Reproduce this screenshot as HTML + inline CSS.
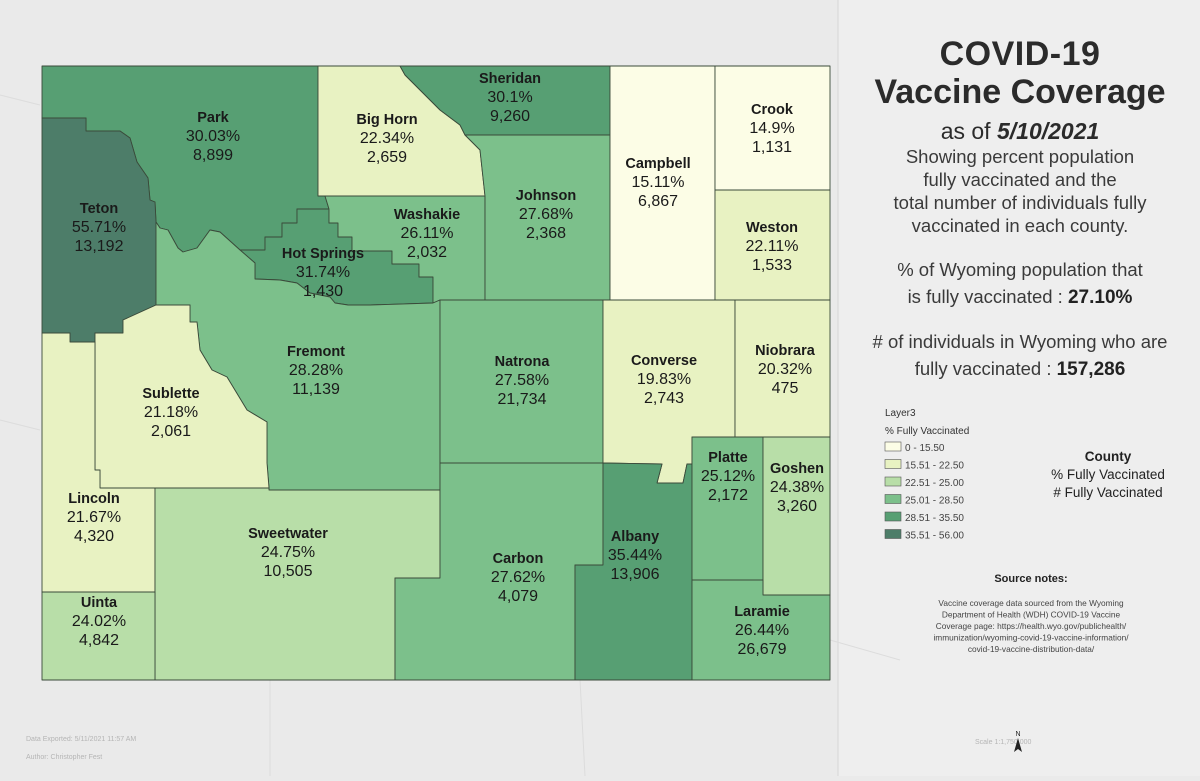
<!DOCTYPE html>
<html><head><meta charset="utf-8"><style>
body{margin:0;width:1200px;height:776px;overflow:hidden;background:#eaeaea;font-family:"Liberation Sans",sans-serif}
</style></head><body>
<svg width="1200" height="776" viewBox="0 0 1200 776" xmlns="http://www.w3.org/2000/svg" style="font-family:'Liberation Sans',sans-serif">
<rect x="0" y="0" width="1200" height="776" fill="#eaeaea"/>
<rect x="838" y="0" width="362" height="776" fill="#eeeeee"/>
<line x1="838" y1="0" x2="838" y2="776" stroke="#d6d6d6"/>
<g stroke="#dcdcdc" fill="none">
<path d="M0,95 L40,105 M270,680 L270,776 M580,680 L585,776 M830,640 L900,660 M0,420 L40,430"/>
</g>
<g id="counties"></g>
<g id="labels"></g>
<g text-anchor="middle" fill="#2b2b2b">
<text x="1020" y="65" font-size="34" font-weight="bold" letter-spacing="0.5">COVID-19</text>
<text x="1020" y="103" font-size="34" font-weight="bold">Vaccine Coverage</text>
<text x="1020" y="139" font-size="23">as of <tspan font-weight="bold" font-style="italic">5/10/2021</tspan></text>
</g>
<g text-anchor="middle" font-size="18.5" fill="#3a3a3a">
<text x="1020" y="163">Showing percent population</text>
<text x="1020" y="186">fully vaccinated and the</text>
<text x="1020" y="209">total number of individuals fully</text>
<text x="1020" y="232">vaccinated in each county.</text>
<text x="1020" y="276">% of Wyoming population that</text>
<text x="1020" y="303">is fully vaccinated : <tspan font-weight="bold" font-size="19" fill="#222">27.10%</tspan></text>
<text x="1020" y="348"># of individuals in Wyoming who are</text>
<text x="1020" y="375">fully vaccinated : <tspan font-weight="bold" font-size="19" fill="#222">157,286</tspan></text>
</g>
<g id="legend">
<text x="885" y="416" font-size="10" fill="#333">Layer3</text>
<text x="885" y="434" font-size="10" fill="#333">% Fully Vaccinated</text>
<g text-anchor="middle" font-size="13.5" fill="#222">
<text x="1108" y="461" font-weight="bold">County</text>
<text x="1108" y="479">% Fully Vaccinated</text>
<text x="1108" y="497"># Fully Vaccinated</text>
</g>
</g>
<g text-anchor="middle">
<text x="1031" y="582" font-size="11" font-weight="bold" fill="#222">Source notes:</text>
<g font-size="8.3" fill="#444">
<text x="1031" y="606">Vaccine coverage data sourced from the Wyoming</text>
<text x="1031" y="617.5">Department of Health (WDH) COVID-19 Vaccine</text>
<text x="1031" y="629">Coverage page: https://health.wyo.gov/publichealth/</text>
<text x="1031" y="640.5">immunization/wyoming-covid-19-vaccine-information/</text>
<text x="1031" y="652">covid-19-vaccine-distribution-data/</text>
</g>
</g>
<g fill="#b5b5b5" font-size="7">
<text x="26" y="741">Data Exported: 5/11/2021 11:57 AM</text>
<text x="26" y="759">Author: Christopher Fest</text>
<text x="975" y="744">Scale 1:1,750,000</text>
</g>
<g>
<path d="M1018,738 L1014,752 L1018,749 L1022,752 Z" fill="#222"/>
<text x="1018" y="736" font-size="7" text-anchor="middle" fill="#222">N</text>
</g>
</svg>
<script>
const counties = ["Park","Teton","Big Horn","Sheridan","Hot Springs","Washakie","Johnson","Campbell","Crook","Weston","Fremont","Natrona","Converse","Niobrara","Sublette","Lincoln","Sweetwater","Carbon","Albany","Platte","Goshen","Laramie","Uinta"];
const pctValues = [30.03,55.71,22.34,30.1,31.74,26.11,27.68,15.11,14.9,22.11,28.28,27.58,19.83,20.32,21.18,21.67,24.75,27.62,35.44,25.12,24.38,26.44,24.02];
const countValues = ["8,899","13,192","2,659","9,260","1,430","2,032","2,368","6,867","1,131","1,533","11,139","21,734","2,743","475","2,061","4,320","10,505","4,079","13,906","2,172","3,260","26,679","4,842"];
const classBreaks = [15.5,22.5,25.0,28.5,35.5,56.0];
const classLabels = ["0 - 15.50","15.51 - 22.50","22.51 - 25.00","25.01 - 28.50","28.51 - 35.50","35.51 - 56.00"];
const classColors = ["#fcfde6","#e8f2c2","#b8dea8","#7cc08b","#579f73","#4d7d69"];

const geom = {
"Park":"42,66 318,66 318,196 325,196 329,209 297,209 297,223 282,223 282,237 265,237 265,250 240,250 220,232 210,230 197,248 183,252 178,248 168,230 160,228 156,222 155,202 150,200 148,178 137,162 130,138 120,131 86,131 86,118 42,118",
"Teton":"42,118 86,118 86,131 120,131 130,138 137,162 148,178 150,200 155,202 156,222 156,305 123,320 123,333 95,333 95,342 70,342 70,333 42,333",
"Big Horn":"318,66 400,66 405,75 420,90 440,110 460,125 465,135 480,150 485,196 325,196 318,196",
"Sheridan":"400,66 610,66 610,135 465,135 460,125 440,110 420,90 405,75",
"Hot Springs":"297,209 329,209 329,223 338,223 338,237 352,237 352,251 392,251 392,264 419,264 419,277 433,277 433,303 370,305 348,305 335,303 330,297 310,293 297,283 280,280 255,279 255,263 240,250 265,250 265,237 282,237 282,223 297,223",
"Washakie":"325,196 485,196 485,300 440,300 433,303 433,277 419,277 419,264 392,264 392,251 352,251 352,237 338,237 338,223 329,223 329,209",
"Johnson":"465,135 610,135 610,300 485,300 485,196 480,150",
"Campbell":"610,66 715,66 715,300 610,300",
"Crook":"715,66 830,66 830,190 715,190",
"Weston":"715,190 830,190 830,300 715,300",
"Fremont":"156,222 160,228 168,230 178,248 183,252 197,248 210,230 220,232 240,250 255,263 255,279 280,280 297,283 310,293 330,297 335,303 348,305 370,305 433,303 440,300 440,490 269,490 269,488 267,463 267,422 247,410 227,377 212,370 200,350 197,322 190,322 190,305 156,305",
"Natrona":"440,300 603,300 603,463 440,463",
"Converse":"603,300 735,300 735,437 692,437 692,464 687,464 683,483 657,483 662,464 603,463",
"Niobrara":"735,300 830,300 830,437 735,437",
"Sublette":"95,333 123,333 123,320 156,305 190,305 190,322 197,322 200,350 212,370 227,377 247,410 267,422 267,463 269,488 100,488 100,470 95,470",
"Lincoln":"42,333 70,333 70,342 95,342 95,470 100,470 100,488 155,488 155,592 42,592",
"Sweetwater":"155,488 269,488 269,490 440,490 440,578 395,578 395,680 155,680",
"Carbon":"440,463 603,463 603,565 575,565 575,680 395,680 395,578 440,578",
"Albany":"603,463 662,464 657,483 683,483 687,464 692,464 692,680 575,680 575,565 603,565",
"Platte":"692,437 763,437 763,580 692,580",
"Goshen":"763,437 830,437 830,595 763,595",
"Laramie":"692,580 763,580 763,595 830,595 830,680 692,680",
"Uinta":"42,592 155,592 155,680 42,680"
};
const labelPos = {
"Park":[213,122],"Teton":[99,213],"Big Horn":[387,124],"Sheridan":[510,83],"Hot Springs":[323,258],"Washakie":[427,219],
"Johnson":[546,200],"Campbell":[658,168],"Crook":[772,114],"Weston":[772,232],"Fremont":[316,356],"Natrona":[522,366],
"Converse":[664,365],"Niobrara":[785,355],"Sublette":[171,398],"Lincoln":[94,503],"Sweetwater":[288,538],"Carbon":[518,563],
"Albany":[635,541],"Platte":[728,462],"Goshen":[797,473],"Laramie":[762,616],"Uinta":[99,607]
};
const NS = "http://www.w3.org/2000/svg";
function colorFor(v){ for (let i = 0; i < classBreaks.length; i++) { if (v <= classBreaks[i]) return classColors[i]; } return classColors[classColors.length - 1]; }
function mk(tag, attrs, parent){ const e = document.createElementNS(NS, tag); for (const k in attrs) e.setAttribute(k, attrs[k]); parent.appendChild(e); return e; }
const cg = document.getElementById('counties');
const lg = document.getElementById('labels');
counties.forEach(function(c, i){
  const slug = c.toLowerCase().replace(/ /g, '-');
  const p = mk('polygon', {points: geom[c], fill: colorFor(pctValues[i]), stroke: '#3a4a3a', 'stroke-width': '0.9', 'stroke-linejoin': 'round'}, cg);
  
  
  const x = labelPos[c][0], y = labelPos[c][1];
  const t = mk('text', {x: x, y: y, 'text-anchor': 'middle', 'font-size': '16', fill: '#1a1a1a'}, lg);
  
  
  const a = mk('tspan', {x: x, dy: 0, 'font-weight': 'bold', 'font-size': '14.5'}, t); a.textContent = c;
  const b = mk('tspan', {x: x, dy: 19}, t); b.textContent = String(pctValues[i]) + '%';
  const d = mk('tspan', {x: x, dy: 19}, t); d.textContent = countValues[i];
});
const leg = document.getElementById('legend');
classLabels.forEach(function(lab, i){
  const y = 442 + i * 17.5;
  const r = mk('rect', {x: 885, y: y, width: 16, height: 9, fill: classColors[i], stroke: '#555', 'stroke-width': '0.6'}, leg);
  
  
  const tx = mk('text', {x: 905, y: y + 9, 'font-size': '10', fill: '#444'}, leg);
  tx.textContent = lab;
});
</script>
</body></html>
